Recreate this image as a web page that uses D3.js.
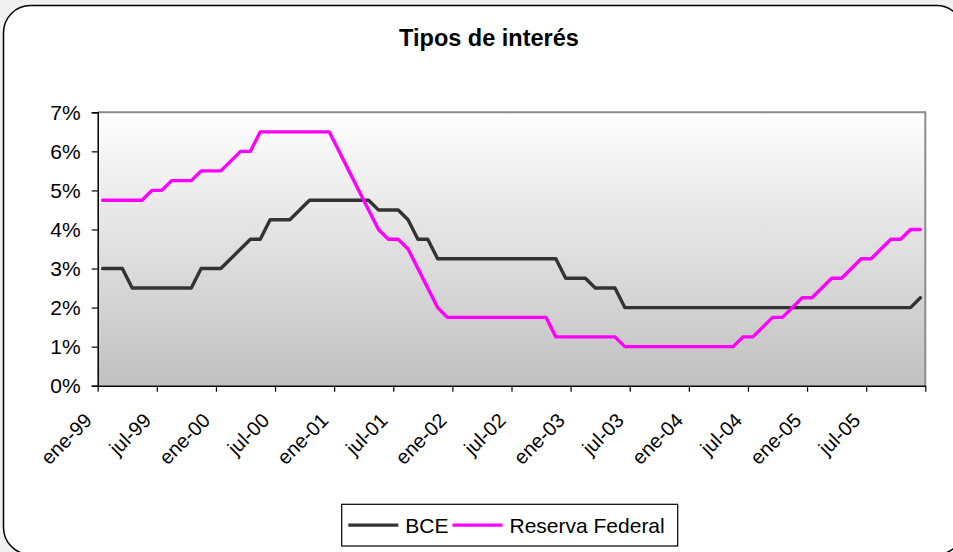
<!DOCTYPE html>
<html lang="es">
<head>
<meta charset="utf-8">
<title>Tipos de interés</title>
<script src="https://cdn.jsdelivr.net/npm/d3@7"></script>
<style>
	html, body { margin: 0; padding: 0; background: #f0f0f0; }
	#chart { display: block; }
	text { font-family: Arial, "Liberation Sans", sans-serif; fill: #000; }
</style>
</head>
<body>
<svg id="chart" width="953" height="552"></svg>
<script>
// chart data: monthly values from ene-99 to dic-05
const chartTitle = 'Tipos de interés';

const seriesNames = ['BCE', 'Reserva Federal'];
const seriesColors = ['#333333', '#ff00ff'];

const bce = [
	3.00, 3.00, 3.00, 2.50, 2.50, 2.50, 2.50, 2.50, 2.50, 2.50, 3.00, 3.00, // 1999
	3.00, 3.25, 3.50, 3.75, 3.75, 4.25, 4.25, 4.25, 4.50, 4.75, 4.75, 4.75, // 2000
	4.75, 4.75, 4.75, 4.75, 4.50, 4.50, 4.50, 4.25, 3.75, 3.75, 3.25, 3.25, // 2001
	3.25, 3.25, 3.25, 3.25, 3.25, 3.25, 3.25, 3.25, 3.25, 3.25, 3.25, 2.75, // 2002
	2.75, 2.75, 2.50, 2.50, 2.50, 2.00, 2.00, 2.00, 2.00, 2.00, 2.00, 2.00, // 2003
	2.00, 2.00, 2.00, 2.00, 2.00, 2.00, 2.00, 2.00, 2.00, 2.00, 2.00, 2.00, // 2004
	2.00, 2.00, 2.00, 2.00, 2.00, 2.00, 2.00, 2.00, 2.00, 2.00, 2.00, 2.25  // 2005
];

const fed = [
	4.75, 4.75, 4.75, 4.75, 4.75, 5.00, 5.00, 5.25, 5.25, 5.25, 5.50, 5.50, // 1999
	5.50, 5.75, 6.00, 6.00, 6.50, 6.50, 6.50, 6.50, 6.50, 6.50, 6.50, 6.50, // 2000
	6.00, 5.50, 5.00, 4.50, 4.00, 3.75, 3.75, 3.50, 3.00, 2.50, 2.00, 1.75, // 2001
	1.75, 1.75, 1.75, 1.75, 1.75, 1.75, 1.75, 1.75, 1.75, 1.75, 1.25, 1.25, // 2002
	1.25, 1.25, 1.25, 1.25, 1.25, 1.00, 1.00, 1.00, 1.00, 1.00, 1.00, 1.00, // 2003
	1.00, 1.00, 1.00, 1.00, 1.00, 1.25, 1.25, 1.50, 1.75, 1.75, 2.00, 2.25, // 2004
	2.25, 2.50, 2.75, 2.75, 3.00, 3.25, 3.25, 3.50, 3.75, 3.75, 4.00, 4.00  // 2005
];

// one label every six months, the last tick (ene-06) has none
const tickLabels = [
	'ene-99', 'jul-99', 'ene-00', 'jul-00', 'ene-01', 'jul-01', 'ene-02',
	'jul-02', 'ene-03', 'jul-03', 'ene-04', 'jul-04', 'ene-05', 'jul-05', ''
];

const yTicks = [0, 1, 2, 3, 4, 5, 6, 7];

;(() => {
	'use strict';

	const svg = d3.select('#chart'),
		width = 953,
		height = 552,
		plot = {left: 97.7, right: 925.3, top: 112.3, bottom: 385.7},
		monthsPerTick = 6,
		numMonths = bce.length;

	const xScale = d3.scaleLinear().domain([0, numMonths]).range([plot.left, plot.right]),
		yScale = d3.scaleLinear().domain([0, 7]).range([plot.bottom, plot.top]);

	/**
	* draw page background, rounded frame and title
	* @returns {undefined}
	*/
	const drawFrame = function() {
		svg.append('rect')
			.attr('width', width)
			.attr('height', height)
			.attr('fill', '#f0f0f0');

		svg.append('rect')
			.attr('x', 3.5)
			.attr('y', 5.5)
			.attr('width', 960)
			.attr('height', 549)
			.attr('rx', 27)
			.attr('fill', '#ffffff')
			.attr('stroke', '#000')
			.attr('stroke-width', 1.5);

		svg.append('text')
			.attr('x', 489)
			.attr('y', 45.5)
			.attr('text-anchor', 'middle')
			.attr('font-size', 23.5)
			.attr('font-weight', 'bold')
			.text(chartTitle);
	};

	/**
	* plot area with gray gradient
	* @returns {undefined}
	*/
	const drawPlotArea = function() {
		const grad = svg.append('defs')
			.append('linearGradient')
			.attr('id', 'plotGrad')
			.attr('x1', 0).attr('y1', 0)
			.attr('x2', 0).attr('y2', 1);
		grad.append('stop').attr('offset', '0%').attr('stop-color', '#ffffff');
		grad.append('stop').attr('offset', '100%').attr('stop-color', '#c0c0c0');

		svg.append('rect')
			.attr('x', plot.left)
			.attr('y', plot.top)
			.attr('width', plot.right - plot.left)
			.attr('height', plot.bottom - plot.top)
			.attr('fill', 'url(#plotGrad)');

		// gray border top and right
		svg.append('path')
			.attr('d', `M${plot.left},${plot.top}H${plot.right}V${plot.bottom}`)
			.attr('fill', 'none')
			.attr('stroke', '#8c8c8c')
			.attr('stroke-width', 2);
	};

	/**
	* axes, ticks and tick labels
	* @returns {undefined}
	*/
	const drawAxes = function() {
		const yAxis = d3.axisLeft(yScale)
			.tickValues(yTicks)
			.tickSize(6)
			.tickPadding(11)
			.tickFormat((d) => d + '%');

		const yG = svg.append('g')
			.attr('transform', `translate(${plot.left},0)`)
			.call(yAxis);
		yG.select('.domain').attr('stroke', '#000').attr('stroke-width', 1.5);
		yG.selectAll('.tick line').attr('stroke', '#000').attr('stroke-width', 1.2);
		yG.selectAll('.tick text')
			.attr('font-size', 21)
			.attr('font-family', 'Arial, "Liberation Sans", sans-serif')
			.attr('fill', '#000');

		const xTickValues = tickLabels.map((l, i) => i * monthsPerTick);
		const xAxis = d3.axisBottom(xScale)
			.tickValues(xTickValues)
			.tickSize(6)
			.tickSizeOuter(0)
			.tickFormat((d, i) => tickLabels[i]);

		const xG = svg.append('g')
			.attr('transform', `translate(0,${plot.bottom})`)
			.call(xAxis);
		xG.select('.domain').attr('stroke', '#000').attr('stroke-width', 1.5);
		xG.selectAll('.tick line').attr('stroke', '#000').attr('stroke-width', 1.2);
		xG.selectAll('.tick text')
			.attr('font-size', 20)
			.attr('font-family', 'Arial, "Liberation Sans", sans-serif')
			.attr('fill', '#000')
			.attr('text-anchor', 'end')
			.attr('y', 0)
			.attr('dy', 0)
			.attr('transform', 'translate(-5,36) rotate(-45)');
	};

	/**
	* series lines
	* @returns {undefined}
	*/
	const drawLines = function() {
		const line = d3.line()
			.x((d, i) => xScale(i + 0.5))
			.y((d) => yScale(d));

		[bce, fed].forEach((values, s) => {
			svg.append('path')
				.datum(values)
				.attr('d', line)
				.attr('fill', 'none')
				.attr('stroke', seriesColors[s])
				.attr('stroke-width', 3.4)
				.attr('stroke-linejoin', 'round')
				.attr('stroke-linecap', 'round');
		});
	};

	/**
	* legend box at the bottom
	* @returns {undefined}
	*/
	const drawLegend = function() {
		const box = {x: 341.7, y: 504.3, w: 336, h: 41.7},
			midY = box.y + box.h / 2,
			lineLen = 50,
			textGap = 7,
			itemGap = 4;

		svg.append('rect')
			.attr('x', box.x)
			.attr('y', box.y)
			.attr('width', box.w)
			.attr('height', box.h)
			.attr('fill', '#fff')
			.attr('stroke', '#000')
			.attr('stroke-width', 1.2);

		let x = 348.3;
		seriesNames.forEach((name, s) => {
			svg.append('line')
				.attr('x1', x)
				.attr('x2', x + lineLen)
				.attr('y1', midY)
				.attr('y2', midY)
				.attr('stroke', seriesColors[s])
				.attr('stroke-width', 3.4);

			const label = svg.append('text')
				.attr('x', x + lineLen + textGap)
				.attr('y', midY)
				.attr('dy', '0.36em')
				.attr('font-size', 21)
				.text(name);

			x += lineLen + textGap + label.node().getComputedTextLength() + itemGap;
		});
	};

	const init = function() {
		drawFrame();
		drawPlotArea();
		drawAxes();
		drawLines();
		drawLegend();
	};

	init();

})();
</script>
</body>
</html>
